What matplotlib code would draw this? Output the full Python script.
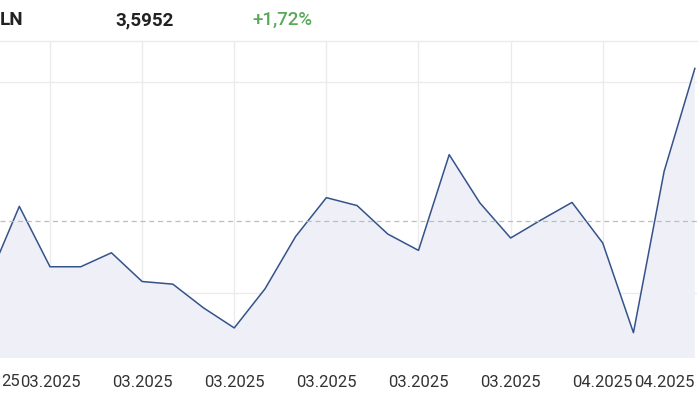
import matplotlib
matplotlib.use("Agg")
import matplotlib.pyplot as plt

plt.rcParams['font.family'] = ['Roboto', 'DejaVu Sans']

# kurs (odczyt z wykresu)
prices = [3.5154, 3.5429, 3.5200, 3.5200, 3.5253, 3.5144, 3.5134, 3.5044,
          3.4968, 3.5116, 3.5315, 3.5462, 3.5432, 3.5324, 3.5262, 3.5625,
          3.5442, 3.5309, 3.5378, 3.5444, 3.5290, 3.4950, 3.5562, 3.5952]
prev_close = 3.5375
grid_idx = [2, 5, 8, 11, 14, 17, 20]
grid_labels = ['03.2025', '03.2025', '03.2025', '03.2025', '03.2025', '03.2025', '04.2025']
extra_idx = [22]
extra_labels = ['04.2025']
cut_label = '25'   # koncowka etykiety ucietej przez lewa krawedz
ygrid = [3.51, 3.59]

ticker = 'LN'
last_txt = '3,5952'
change_txt = '+1,72%'

x = list(range(len(prices)))
ymin, ymax = 3.4854, 3.6056

fig = plt.figure(figsize=(7, 4), dpi=100)
ax = fig.add_axes([0, 0.105, 697 / 700, 0.7925])

ax.fill_between(x, prices, ymin, color='#efeff7', lw=0)
ax.plot(x, prices, color='#34538a', lw=1.1)
ax.axhline(prev_close, color='#bdbdbd', lw=0.9, ls=(0, (4, 3)))

ax.set_xlim(0.371, 23.07)
ax.set_ylim(ymin, ymax)

ax.set_xticks(grid_idx)
ax.set_xticklabels(grid_labels)
ax.set_xticks(extra_idx, minor=True)
ax.set_xticklabels(extra_labels, minor=True)
ax.set_yticks(ygrid)
ax.set_yticklabels([])
ax.tick_params(axis='both', which='both', length=0)
ax.tick_params(axis='x', which='both', pad=12, labelsize=12, labelcolor='#333333')
ax.grid(True, which='major', color='#ebebeb', lw=1)
ax.set_axisbelow(True)

ax.text(0.0025, -0.075, cut_label, transform=ax.transAxes,
        ha='left', va='center', fontsize=12, color='#333333', clip_on=False)

for side in ['left', 'right', 'bottom']:
    ax.spines[side].set_visible(False)
ax.spines['top'].set_color('#ebebeb')
ax.spines['top'].set_linewidth(1)

fig.text(0.0, 0.95, ticker, ha='left', va='center', fontsize=13.5,
         fontweight='bold', color='#222222')
fig.text(115 / 700, 0.95, last_txt, ha='left', va='center', fontsize=13.5,
         fontweight='bold', color='#222222')
fig.text(252 / 700, 0.95, change_txt, ha='left', va='center', fontsize=13.5,
         fontweight='medium', color='#5aa85a')

fig.savefig('out.png', dpi=100)
